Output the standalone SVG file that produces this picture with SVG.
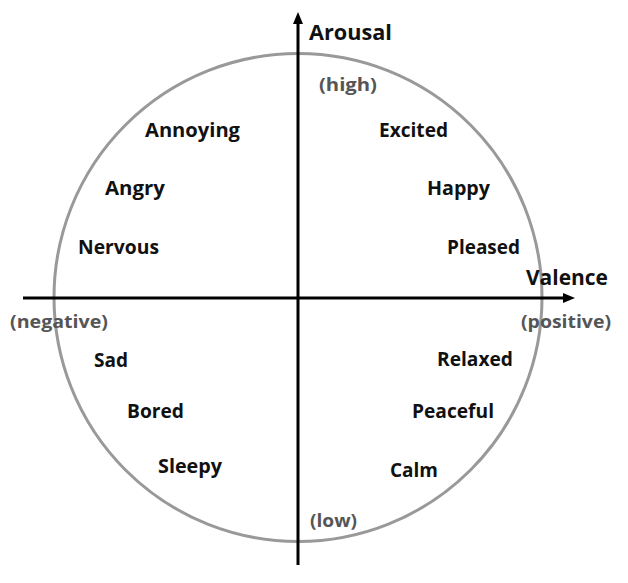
<svg xmlns="http://www.w3.org/2000/svg" width="628" height="583" viewBox="0 0 628 583">
<style>
.emo{font-family:"Open Sans","Noto Sans","Liberation Sans",sans-serif;font-weight:bold;font-size:19px;fill:#111}
.ax{font-family:"Open Sans","Noto Sans","Liberation Sans",sans-serif;font-weight:bold;font-size:21px;fill:#111}
.sub{font-family:"Open Sans","Noto Sans","Liberation Sans",sans-serif;font-weight:bold;font-size:18px;fill:#555}
.axis{stroke:#000;stroke-width:3;fill:none}
</style>
<defs>
<marker id="ah" markerWidth="12" markerHeight="10" refX="3" refY="5" orient="auto" markerUnits="userSpaceOnUse">
<path d="M0,0 L12,5 L0,10 Z" fill="#000"/>
</marker>
</defs>
<rect width="628" height="583" fill="#fff"/>
<circle id="circle" cx="298" cy="297.5" r="244" fill="none" stroke="#999" stroke-width="3"/>
<g id="connectors">
<line class="axis" x1="298" y1="565" x2="298" y2="21" marker-end="url(#ah)"/>
<line class="axis" x1="23" y1="298" x2="566" y2="298" marker-end="url(#ah)"/>
</g>
<g id="axis-labels">
<text class="ax" x="309" y="40" textLength="83" lengthAdjust="spacingAndGlyphs">Arousal</text>
<text class="sub" x="319" y="91" textLength="58" lengthAdjust="spacingAndGlyphs">(high)</text>
<text class="ax" x="526" y="285" textLength="82" lengthAdjust="spacingAndGlyphs">Valence</text>
<text class="sub" x="521" y="328" textLength="90" lengthAdjust="spacingAndGlyphs">(positive)</text>
<text class="sub" x="10" y="328" textLength="98" lengthAdjust="spacingAndGlyphs">(negative)</text>
<text class="sub" x="310" y="527" textLength="47" lengthAdjust="spacingAndGlyphs">(low)</text>
</g>
<g id="n-annoying"><text class="emo" x="145" y="137" textLength="95" lengthAdjust="spacingAndGlyphs">Annoying</text></g>
<g id="n-angry"><text class="emo" x="105" y="195" textLength="60" lengthAdjust="spacingAndGlyphs">Angry</text></g>
<g id="n-nervous"><text class="emo" x="78" y="254" textLength="81" lengthAdjust="spacingAndGlyphs">Nervous</text></g>
<g id="n-excited"><text class="emo" x="379" y="137" textLength="69" lengthAdjust="spacingAndGlyphs">Excited</text></g>
<g id="n-happy"><text class="emo" x="427" y="195" textLength="63" lengthAdjust="spacingAndGlyphs">Happy</text></g>
<g id="n-pleased"><text class="emo" x="447" y="254" textLength="73" lengthAdjust="spacingAndGlyphs">Pleased</text></g>
<g id="n-sad"><text class="emo" x="94" y="367" textLength="34" lengthAdjust="spacingAndGlyphs">Sad</text></g>
<g id="n-bored"><text class="emo" x="127" y="418" textLength="57" lengthAdjust="spacingAndGlyphs">Bored</text></g>
<g id="n-sleepy"><text class="emo" x="158" y="473" textLength="64" lengthAdjust="spacingAndGlyphs">Sleepy</text></g>
<g id="n-relaxed"><text class="emo" x="437" y="366" textLength="76" lengthAdjust="spacingAndGlyphs">Relaxed</text></g>
<g id="n-peaceful"><text class="emo" x="412" y="418" textLength="82" lengthAdjust="spacingAndGlyphs">Peaceful</text></g>
<g id="n-calm"><text class="emo" x="390" y="477" textLength="48" lengthAdjust="spacingAndGlyphs">Calm</text></g>
</svg>
